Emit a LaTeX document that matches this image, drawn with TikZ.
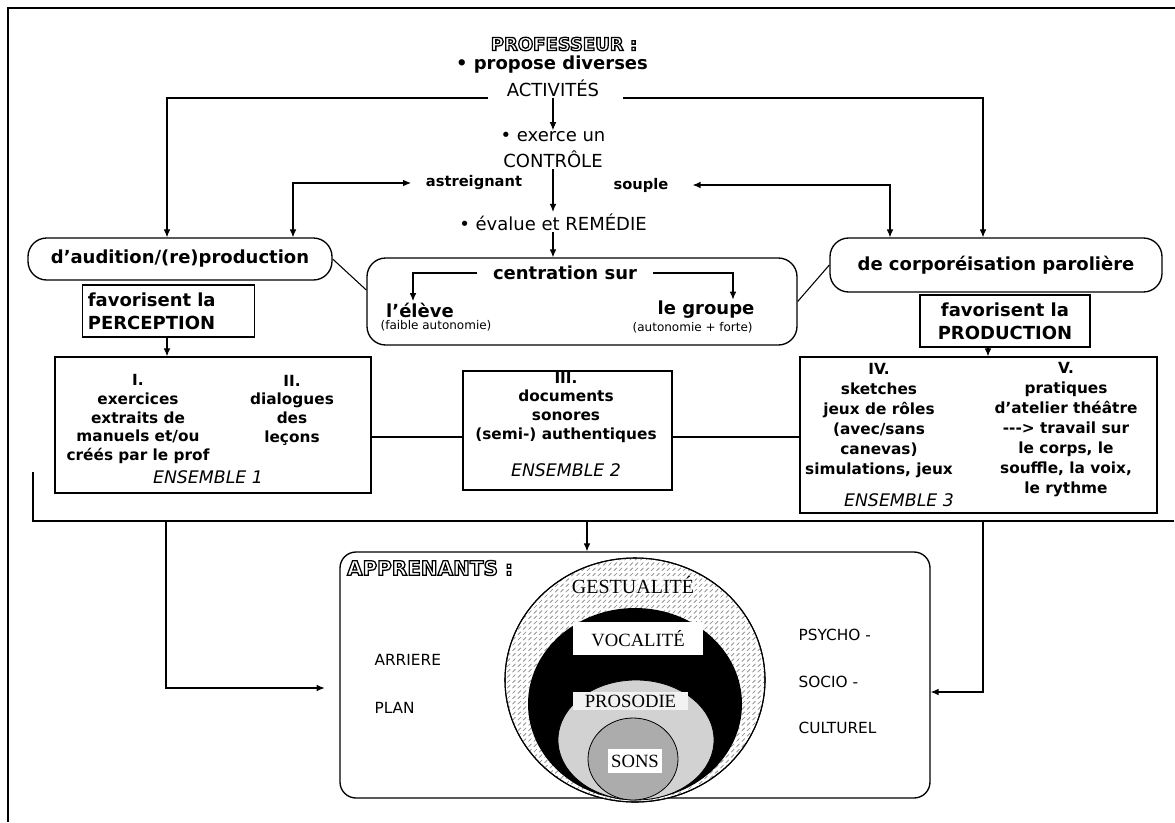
\documentclass[tikz,border=0pt]{standalone}
\usepackage{fontspec}
\setmainfont{DejaVu Sans}
\newfontfamily\serifcaps{Liberation Serif}
\usetikzlibrary{positioning,arrows.meta,patterns}

\pgfdeclarepatternformonly{slashes}{\pgfqpoint{-1pt}{-1pt}}{\pgfqpoint{5pt}{5pt}}{\pgfqpoint{4pt}{4pt}}{%
  \pgfsetlinewidth{0.5pt}%
  \pgfpathmoveto{\pgfqpoint{0.4pt}{0.4pt}}%
  \pgfpathlineto{\pgfqpoint{2.6pt}{2.6pt}}%
  \pgfusepath{stroke}}

\newcommand\hollow[1]{\special{pdf:literal direct 1 Tr 0.95 w}#1\special{pdf:literal direct 0 Tr}}

\begin{document}
\begin{tikzpicture}[x=0.75pt,y=-0.75pt,
    every node/.style={inner sep=1pt},
    title/.style={font=\fontsize{13.5}{16}\selectfont\bfseries},
    big/.style={font=\fontsize{13.5}{17}\selectfont\bfseries},
    plain/.style={font=\fontsize{13.5}{16}\selectfont},
    small/.style={font=\fontsize{11}{13}\selectfont\bfseries},
    tiny/.style={font=\fontsize{9}{10}\selectfont},
    side/.style={font=\fontsize{11.5}{13}\selectfont,anchor=west},
    boxtxt/.style={font=\fontsize{11.5}{14}\selectfont\bfseries,align=center},
    ens/.style={font=\fontsize{13}{15}\selectfont\itshape},
    circ/.style={font=\serifcaps\fontsize{14}{16}\selectfont,inner sep=0.5pt},
    frame/.style={draw,line width=1pt},
    oval/.style={draw,line width=1pt,rounded corners=14pt,big},
    arrow/.style={-{Latex[length=6pt,width=5pt]},line width=0.8pt},
    dbl/.style={{Latex[length=6pt,width=5pt]}-{Latex[length=6pt,width=5pt]},line width=0.8pt},
    link/.style={line width=0.8pt}]
  \useasboundingbox (0,0) rectangle (1175,822);
  \draw[line width=1pt] (8,822) -- (8,8) -- (1175,8);

  % professeur
  \node[title] (prof) at (564,44) {\hollow{PROFESSEUR :}};
  \node[big] (prop) at (552,65) {\textbullet\ propose diverses};
  \node[plain] (act) at (553,88) {ACTIVITÉS};
  \node[plain] (exer) at (553,137) {\textbullet\ exerce un};
  \node[plain] (ctrl) at (553,159) {CONTRÔLE};
  \node[small,inner xsep=11pt] (astr) at (474,183) {astreignant};
  \node[small,inner xsep=18pt] (soup) at (641,185) {souple};
  \node[plain] (eval) at (553,222) {\textbullet\ évalue et REMÉDIE};
  \coordinate (actL) at (488,98);
  \coordinate (actR) at (623,98);

  \node[oval,minimum width=228pt,minimum height=31.5pt] (aud) at (180,259) {d’audition/(re)production};
  \node[oval,minimum width=249pt,minimum height=40.5pt] (corpo) at (996,265) {de corporéisation parolière};
  \node[frame,big,align=left,text width=121pt,inner xsep=4pt,minimum height=39pt] (perc) at (168.5,311) {favorisent la\\PERCEPTION};
  \node[frame,big,align=center,minimum width=127.5pt,minimum height=39pt] (prodn) at (1005,321) {favorisent la\\PRODUCTION};

  % centration
  \node[frame,rounded corners=14pt,minimum width=322.5pt,minimum height=65.25pt] (cbox) at (582,301.5) {};
  \node[big,inner xsep=12pt] (centr) at (565,273) {centration sur};
  \node[big] (eleve) at (420,310) {l’élève};
  \node[tiny,below=0pt of eleve,xshift=12pt] (faible) {(faible autonomie)};
  \node[big] (grp) at (706,310) {le groupe};
  \node[tiny,below=0pt of grp,xshift=-10pt] (auto) {(autonomie + forte)};

  % ensembles
  \node[frame,minimum width=237pt,minimum height=102pt] (ens1) at (213,425) {};
  \node[boxtxt] (exo) at (138,419) {I.\\exercices\\extraits de\\manuels et/ou\\créés par le prof};
  \node[boxtxt] (dial) at (292,410) {II.\\dialogues\\des\\leçons};
  \node[ens] (e1) at (208,477) {ENSEMBLE 1};
  \node[frame,minimum width=156.75pt,minimum height=89.25pt] (ens2) at (567.5,430.5) {};
  \node[boxtxt] (docs) at (566,407) {III.\\documents\\sonores\\(semi-) authentiques};
  \node[ens] (e2) at (566,470) {ENSEMBLE 2};
  \node[frame,minimum width=267.75pt,minimum height=117pt] (ens3) at (978.5,435) {};
  \node[boxtxt,font=\fontsize{11.5}{15}\selectfont\bfseries] (sket) at (879,421) {IV.\\sketches\\jeux de rôles\\(avec/sans\\canevas)\\simulations, jeux};
  \node[boxtxt,font=\fontsize{11.5}{15}\selectfont\bfseries] (atel) at (1066,430) {V.\\pratiques\\d’atelier théâtre\\-{}-{}-> travail sur\\le corps, le\\souffle, la voix,\\le rythme};
  \node[ens] (e3) at (899,500) {ENSEMBLE 3};

  % apprenants
  \node[frame,rounded corners=12pt,minimum width=442.5pt,minimum height=184.5pt] (appr) at (635,675) {};
  \node[title,font=\fontsize{15}{17}\selectfont\bfseries] (apt) at (430,568) {\hollow{APPRENANTS :}};
  \node[side] (arr) at (373,660) {ARRIERE};
  \node[side] (plan) at (373,708) {PLAN};
  \node[side] (psy) at (797,635) {PSYCHO -};
  \node[side] (soc) at (797,682) {SOCIO -};
  \node[side] (cult) at (797,728) {CULTUREL};

  \draw[line width=0.8pt,fill=white] (635,680) ellipse [x radius=130,y radius=122];
  \draw[line width=0.8pt,pattern=slashes,pattern color=gray] (635,680) ellipse [x radius=130,y radius=122];
  \fill[black] (635,704) ellipse [x radius=107,y radius=96];
  \draw[line width=0.6pt,fill=gray!35] (636,740) ellipse [x radius=78,y radius=60];
  \draw[line width=0.6pt,fill=gray!65] (633,759) ellipse [x radius=45,y radius=41];
  \node[circ,font=\serifcaps\fontsize{15}{17}\selectfont,fill=white,fill opacity=0.6,text opacity=1] (gest) at (633,585) {GESTUALITÉ};
  \node[circ,fill=white,minimum width=97.5pt,minimum height=24.75pt] (voc) at (638,638.5) {VOCALITÉ};
  \node[circ,fill=gray!10,minimum width=86pt,minimum height=13.5pt] (pros) at (630.5,701) {PROSODIE};
  \node[circ,fill=white,minimum width=40.5pt,minimum height=18pt] (sons) at (635,761) {SONS};

  % connectors
  \draw[arrow] (act) -- (exer);
  \draw[arrow] (ctrl) -- (eval);
  \draw[arrow] (eval.south) -- (eval.south |- cbox.north);
  \draw[arrow] (actL) -| (167,0 |- aud.north);
  \draw[arrow] (actR) -| (983,0 |- corpo.north);
  \draw[dbl] (astr.west) -| (293,0 |- aud.north);
  \draw[dbl] (soup.east) -| (890,0 |- corpo.north);
  \draw[arrow] (centr.west) -| (413,0 |- eleve.north);
  \draw[arrow] (centr.east) -| (733,0 |- grp.north);
  \draw[link] (aud.east) -- ([yshift=8.6pt]cbox.west);
  \draw[link] (cbox.east) -- (corpo.west);
  \draw[arrow] (167,0 |- perc.south) -- (167,0 |- ens1.north);
  \draw[arrow] (988,0 |- prodn.south) -- (988,0 |- ens3.north);
  \draw[link] (ens1.east |- 0,437) -- (ens2.west |- 0,437);
  \draw[link] (ens2.east |- 0,437) -- (ens3.west |- 0,437);

  \coordinate (busL) at (33,472);
  \coordinate (busR) at (1174,521);
  \coordinate (t1) at (166,521);
  \coordinate (t2) at (587,521);
  \coordinate (t3) at (983,521);
  \draw[link] (busL) |- (busR);
  \draw[arrow,shorten >=11pt] (t1) |- (appr.west |- 0,688);
  \draw[arrow] (t2) -- (t2 |- appr.north);
  \draw[arrow] (t3) |- (appr.east |- 0,692);
\end{tikzpicture}
\end{document}
